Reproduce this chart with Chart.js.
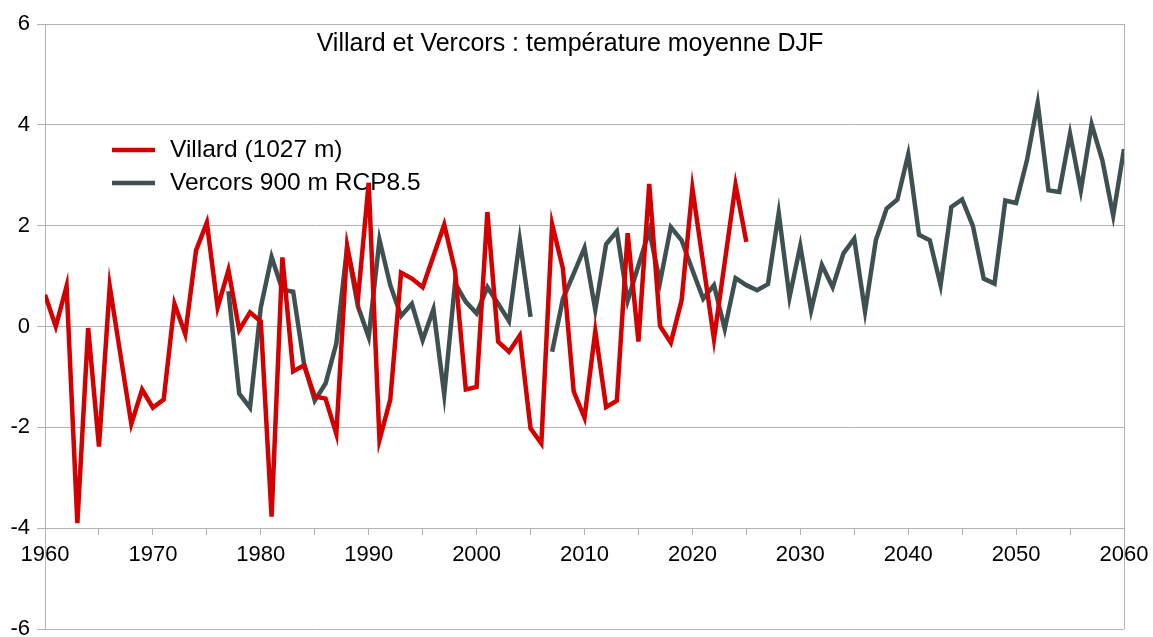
<!DOCTYPE html>
<html><head><meta charset="utf-8">
<script src="https://cdn.jsdelivr.net/npm/chart.js@4"></script>
<style>html,body{margin:0;padding:0;background:#fff}#wrap{width:1153px;height:637px}</style>
</head><body><div id="wrap"><canvas id="c" width="1153" height="637"></canvas></div>
<script>
const titleText = "Villard et Vercors : température moyenne DJF";
const seriesNames = ["Villard (1027 m)", "Vercors 900 m RCP8.5"];
const seriesColors = ["#d40000", "#3e5150"];
const villardStart = 1960;
const villardTemps = [
  0.63, 0.00, 0.80, -3.90, -0.03, -2.38, 0.80, -0.57, -1.93, -1.25,
  -1.61, -1.45, 0.45, -0.15, 1.51, 2.06, 0.38, 1.12, -0.07, 0.28,
  0.10, -3.77, 1.37, -0.89, -0.77, -1.39, -1.43, -2.13, 1.58, 0.54,
  2.85, -2.25, -1.45, 1.07, 0.95, 0.78, 1.40, 2.02, 1.11, -1.25,
  -1.20, 2.27, -0.30, -0.50, -0.18, -2.02, -2.32, 2.03, 1.15, -1.29,
  -1.81, -0.09, -1.60, -1.47, 1.85, -0.30, 2.83, 0.01, -0.32, 0.52,
  2.74, 1.25, -0.25, 1.28, 2.81, 1.68
];
const vercorsStart = 1977;
const vercorsTemps = [
  0.70, -1.33, -1.61,
  0.38, 1.38, 0.73, 0.69, -0.73, -1.47, -1.13, -0.34, 1.58, 0.40,
  -0.21, 1.72, 0.82, 0.21, 0.45, -0.27, 0.34, -1.35, 0.86, 0.49,
  0.26, 0.78, 0.45, 0.11, 1.72, 0.19, null, -0.50, 0.55, 1.05,
  1.56, 0.33, 1.63, 1.89, 0.51, 1.21, 1.90, 0.88, 1.97, 1.71,
  1.12, 0.55, 0.82, -0.05, 0.96, 0.82, 0.72, 0.84, 2.25, 0.58,
  1.60, 0.32, 1.22, 0.78, 1.45, 1.74, 0.30, 1.71, 2.34, 2.52,
  3.41, 1.82, 1.71, 0.82, 2.37, 2.52, 1.99, 0.95, 0.85, 2.50,
  2.45, 3.29, 4.43, 2.70, 2.67, 3.82, 2.70, 4.01, 3.29, 2.20,
  3.52
];
const xMin = 1960, xMax = 2060, xLabelStep = 10, xTickStep = 5;
const yMin = -6, yMax = 6, yStep = 2, xAxisAtY = -4;

const FONT = "'Liberation Sans', Arial, sans-serif";
const GRID = "#b3b3b3";

function toPoints(start, arr) { return arr.map((v, i) => ({ x: start + i, y: v })); }

const titlePlugin = {
  id: 'titleText',
  afterDraw(chart) {
    const ctx = chart.ctx;
    ctx.save();
    ctx.font = "25px " + FONT;
    ctx.fillStyle = "#000";
    ctx.textAlign = "center";
    ctx.textBaseline = "middle";
    ctx.fillText(titleText, 570, 44);
    ctx.restore();
  }
};
const legendPlugin = {
  id: 'insideLegend',
  beforeDatasetsDraw(chart) {
    const ctx = chart.ctx;
    ctx.save();
    chart.data.datasets.forEach((ds, i) => {
      const y = 150 + i * 33;
      ctx.strokeStyle = ds.borderColor;
      ctx.lineWidth = 4.5;
      ctx.beginPath(); ctx.moveTo(112, y); ctx.lineTo(155, y); ctx.stroke();
      ctx.font = "24.5px " + FONT;
      ctx.fillStyle = "#000";
      ctx.textAlign = "left";
      ctx.textBaseline = "middle";
      ctx.fillText(ds.label, 170, y);
    });
    ctx.restore();
  }
};

new Chart(document.getElementById('c'), {
  type: 'line',
  data: {
    datasets: [
      { label: seriesNames[0], data: toPoints(villardStart, villardTemps), borderColor: seriesColors[0], backgroundColor: seriesColors[0], borderWidth: 4.5, pointRadius: 0, tension: 0, spanGaps: false },
      { label: seriesNames[1], data: toPoints(vercorsStart, vercorsTemps), borderColor: seriesColors[1], backgroundColor: seriesColors[1], borderWidth: 4.5, pointRadius: 0, tension: 0, spanGaps: false }
    ]
  },
  options: {
    responsive: false,
    animation: false,
    devicePixelRatio: 1,
    layout: { autoPadding: false, padding: { top: 24, bottom: 8, left: 0, right: 29 } },
    plugins: { legend: { display: false }, title: { display: false }, tooltip: { enabled: false } },
    scales: {
      x: {
        type: 'linear', min: xMin, max: xMax, position: { y: xAxisAtY },
        ticks: { stepSize: xTickStep, autoSkip: false, maxRotation: 0, color: '#000', padding: 8,
          font: { size: 22, family: FONT },
          callback: v => (v % xLabelStep === 0 ? String(v) : '') },
        grid: { color: c => (c.tick && c.tick.value === xMax ? GRID : 'rgba(0,0,0,0)'), tickColor: GRID, tickLength: 6, drawOnChartArea: true },
        border: { color: GRID },
        afterFit: s => { s.paddingLeft = 0; s.paddingRight = 0; s.paddingTop = 0; s.paddingBottom = 0; }
      },
      y: {
        min: yMin, max: yMax,
        ticks: { stepSize: yStep, color: '#000', padding: 7, font: { size: 22, family: FONT } },
        grid: { color: GRID, tickLength: 8 },
        border: { color: GRID },
        afterFit: s => { s.width = 45; s.paddingTop = 0; s.paddingBottom = 0; s.paddingLeft = 0; s.paddingRight = 0; }
      }
    }
  },
  plugins: [titlePlugin, legendPlugin]
});
</script></body></html>
